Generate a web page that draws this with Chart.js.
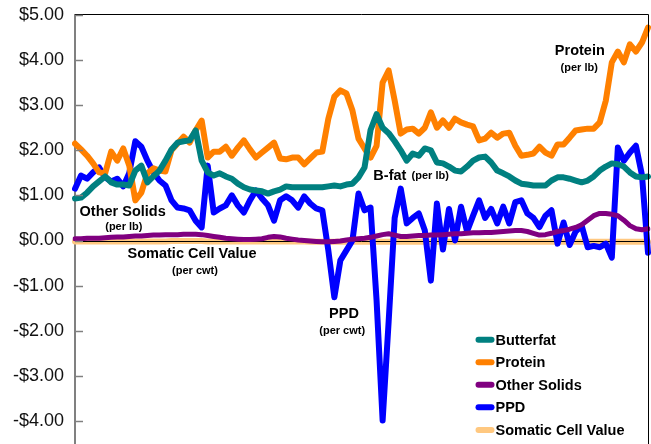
<!DOCTYPE html>
<html>
<head>
<meta charset="utf-8">
<script src="https://cdn.jsdelivr.net/npm/chart.js@4.4.1/dist/chart.umd.min.js"></script>
<style>
html,body{margin:0;padding:0;background:#fff;overflow:hidden;}
canvas{display:block;}
</style>
</head>
<body>
<canvas id="c" width="651" height="480"></canvas>
<script>
// ---- data ----
const periods = Array.from({length: 96}, (_, i) => 'P' + (i + 1));
const yTicks = [-5, -4, -3, -2, -1, 0, 1, 2, 3, 4, 5];

const butterfat = [
 0.93,0.95,1.06,1.20,1.31,1.42,1.29,1.24,1.24,1.22,
 1.55,1.66,1.29,1.42,1.55,1.77,2.02,2.17,2.20,2.22,
 2.44,1.77,1.51,1.44,1.49,1.42,1.37,1.26,1.18,1.13,
 1.11,1.09,1.04,1.09,1.13,1.20,1.18,1.18,1.18,1.18,
 1.18,1.18,1.20,1.22,1.20,1.24,1.26,1.40,1.62,2.45,
 2.80,2.50,2.38,2.20,2.00,1.77,1.93,1.88,2.04,2.00,
 1.73,1.71,1.64,1.55,1.53,1.64,1.77,1.84,1.86,1.73,
 1.55,1.49,1.42,1.33,1.26,1.24,1.22,1.22,1.22,1.33,
 1.40,1.40,1.37,1.33,1.29,1.33,1.42,1.55,1.64,1.71,
 1.69,1.64,1.51,1.42,1.40,1.42];

const protein = [
 2.15,2.02,1.88,1.71,1.51,1.49,1.97,1.77,2.04,1.66,
 0.89,1.06,1.49,1.60,1.55,1.53,2.00,2.15,2.30,2.17,
 2.44,2.66,1.84,1.97,1.97,2.08,1.88,2.06,2.22,2.02,
 1.84,1.95,2.06,2.17,1.82,1.80,1.84,1.84,1.69,1.82,
 1.95,1.97,2.70,3.19,3.33,3.26,2.88,2.26,2.04,1.84,
 2.10,3.50,3.77,3.10,2.37,2.46,2.48,2.37,2.50,2.84,
 2.50,2.66,2.50,2.70,2.62,2.57,2.53,2.22,2.26,2.39,
 2.28,2.37,2.39,2.10,1.88,1.90,1.93,2.08,1.95,1.88,
 2.13,2.13,2.28,2.44,2.46,2.48,2.48,2.62,3.10,3.95,
 4.19,3.95,4.35,4.19,4.39,4.72];

const otherSolids = [
 0.04,0.04,0.05,0.05,0.05,0.06,0.07,0.08,0.08,0.09,
 0.10,0.10,0.11,0.12,0.12,0.13,0.13,0.13,0.14,0.14,
 0.14,0.13,0.11,0.09,0.07,0.05,0.04,0.03,0.02,0.02,
 0.03,0.04,0.07,0.09,0.08,0.05,0.03,0.01,0.00,-0.01,
 -0.02,-0.03,-0.03,-0.02,-0.01,0.01,0.03,0.04,0.05,0.07,
 0.10,0.13,0.15,0.12,0.09,0.09,0.10,0.11,0.11,0.12,
 0.12,0.13,0.14,0.15,0.15,0.16,0.17,0.17,0.18,0.18,
 0.19,0.20,0.21,0.22,0.22,0.20,0.16,0.12,0.13,0.16,
 0.20,0.22,0.25,0.29,0.35,0.45,0.55,0.60,0.60,0.58,
 0.55,0.45,0.33,0.26,0.24,0.26];

const ppd = [
 1.15,1.44,1.37,1.51,1.62,1.40,1.31,1.37,1.20,1.50,
 2.20,2.08,1.77,1.51,1.33,1.22,0.89,0.73,0.71,0.67,
 0.44,0.29,1.66,0.62,0.71,0.78,1.00,0.78,0.62,0.89,
 1.11,0.93,0.78,0.44,0.89,0.98,0.89,0.73,0.98,0.82,
 0.71,0.67,-0.22,-1.26,-0.44,-0.22,0.00,1.04,0.67,0.73,
 -1.33,-3.99,-1.80,0.50,1.15,0.38,0.50,0.60,0.22,-0.89,
 0.82,-0.20,0.70,0.00,0.75,0.20,0.55,0.89,0.50,0.70,
 0.38,0.75,0.38,0.85,0.89,0.60,0.50,0.30,0.55,0.67,
 -0.07,0.40,-0.10,0.20,0.33,-0.15,-0.12,-0.15,-0.07,-0.38,
 2.06,1.77,1.95,2.10,1.45,-0.27];

const somaticCell = [
 -0.02,-0.02,-0.02,-0.02,-0.02,-0.02,-0.02,-0.02,-0.02,-0.02,
 -0.02,-0.02,-0.02,-0.02,-0.02,-0.02,-0.01,-0.01,-0.01,-0.01,
 -0.01,-0.01,-0.02,-0.02,-0.02,-0.02,-0.02,-0.02,-0.02,-0.02,
 -0.02,-0.02,-0.02,-0.02,-0.02,-0.02,-0.02,-0.02,-0.02,-0.03,
 -0.03,-0.03,-0.03,-0.03,-0.03,-0.03,-0.03,-0.03,-0.03,-0.03,
 -0.03,-0.03,-0.03,-0.03,-0.03,-0.03,-0.03,-0.03,-0.03,-0.03,
 -0.03,-0.03,-0.03,-0.03,-0.03,-0.03,-0.03,-0.03,-0.03,-0.03,
 -0.03,-0.03,-0.03,-0.03,-0.03,-0.03,-0.03,-0.03,-0.03,-0.03,
 -0.03,-0.03,-0.03,-0.03,-0.03,-0.03,-0.03,-0.03,-0.03,-0.03,
 -0.03,-0.03,-0.03,-0.03,-0.03,-0.03];

const seriesNames = ['Butterfat', 'Protein', 'Other Solids', 'PPD', 'Somatic Cell Value'];
const seriesColors = ['#008080', '#FF8000', '#800080', '#0000FF', '#FFC880'];

// text labels: [text, xIndex, yValue, fontPx, align]
const notes = [
 ['Protein', 83.7, 4.21, 14.5, 'center'],
 ['(per lb)', 83.6, 3.83, 11, 'center'],
 ['B-fat', 52.2, 1.44, 14.5, 'center'],
 ['(per lb)', 58.9, 1.42, 11, 'center'],
 ['Other Solids', 7.9, 0.64, 14.5, 'center'],
 ['(per lb)', 8.1, 0.29, 11, 'center'],
 ['Somatic Cell Value', 19.4, -0.31, 14.5, 'center'],
 ['(per cwt)', 19.9, -0.67, 11, 'center'],
 ['PPD', 44.6, -1.64, 14.5, 'center'],
 ['(per cwt)', 44.3, -2.0, 11, 'center']
];

const FONT = '"Liberation Sans", Arial, sans-serif';

const datasets = [butterfat, protein, otherSolids, ppd, somaticCell].map((d, i) => ({
  label: seriesNames[i],
  data: d,
  borderColor: seriesColors[i],
  backgroundColor: seriesColors[i],
  borderWidth: i === 2 ? 5 : 6,
  pointRadius: 0,
  tension: 0,
  fill: false,
  borderJoinStyle: 'round',
  borderCapStyle: 'round'
}));

const decor = {
  id: 'decor',
  afterDatasetDraw(chart, args) {
    if (args.index !== 4) return;
    const {ctx, chartArea, scales} = chart;
    const y0 = Math.round(scales.y.getPixelForValue(0)) + 0.5;
    ctx.save();
    ctx.strokeStyle = '#000';
    ctx.lineWidth = 1;
    ctx.beginPath();
    ctx.moveTo(chartArea.left, y0);
    ctx.lineTo(chartArea.right, y0);
    ctx.stroke();
    ctx.restore();
  },
  afterDraw(chart) {
    const {ctx, chartArea, scales} = chart;
    ctx.save();
    // top & right border
    ctx.strokeStyle = '#000';
    ctx.lineWidth = 1;
    ctx.beginPath();
    ctx.moveTo(chartArea.left, chartArea.top - 0.5);
    ctx.lineTo(chartArea.right + 0.5, chartArea.top - 0.5);
    ctx.lineTo(chartArea.right + 0.5, chartArea.bottom + 20);
    ctx.stroke();
    // inner ticks
    ctx.strokeStyle = '#808080';
    ctx.lineWidth = 1.5;
    yTicks.forEach(v => {
      const y = Math.round(scales.y.getPixelForValue(v)) + 0.5;
      ctx.beginPath();
      ctx.moveTo(chartArea.left, y);
      ctx.lineTo(chartArea.left + 8, y);
      ctx.stroke();
    });
    // notes
    ctx.fillStyle = '#000';
    ctx.textBaseline = 'middle';
    notes.forEach(n => {
      ctx.font = 'bold ' + n[3] + 'px ' + FONT;
      ctx.textAlign = n[4];
      ctx.fillText(n[0], scales.x.getPixelForValue(n[1]), scales.y.getPixelForValue(n[2]));
    });
    // legend
    const lx = scales.x.getPixelForValue(66.9);
    let ly = scales.y.getPixelForValue(-2.20);
    const step = (scales.y.getPixelForValue(0) - scales.y.getPixelForValue(1)) * 0.5;
    seriesNames.forEach((name, i) => {
      ctx.strokeStyle = seriesColors[i];
      ctx.lineWidth = 6;
      ctx.lineCap = 'round';
      ctx.beginPath();
      ctx.moveTo(lx, ly);
      ctx.lineTo(lx + 13, ly);
      ctx.stroke();
      ctx.fillStyle = '#000';
      ctx.font = 'bold 14.5px ' + FONT;
      ctx.textAlign = 'left';
      ctx.fillText(name, lx + 17, ly + 1);
      ly += step;
    });
    ctx.restore();
  }
};

new Chart(document.getElementById('c'), {
  type: 'line',
  data: { labels: periods, datasets },
  options: {
    responsive: false,
    animation: false,
    devicePixelRatio: 1,
    layout: { padding: { top: 15, right: 3, bottom: 14, left: 0 } },
    plugins: { legend: { display: false }, tooltip: { enabled: false } },
    scales: {
      x: { display: false, offset: false },
      y: {
        min: -5, max: 5,
        afterFit(s) { s.width = 75; s.paddingTop = 0; s.paddingBottom = 0; },
        afterBuildTicks(s) { s.ticks = yTicks.map(v => ({ value: v })); },
        grid: { display: false, drawTicks: false },
        border: { display: true, color: '#808080', width: 2 },
        ticks: {
          padding: 11,
          color: '#111',
          font: { family: FONT, size: 18 },
          callback: v => (v < 0 ? '-$' : '$') + Math.abs(v).toFixed(2)
        }
      }
    }
  },
  plugins: [decor]
});
</script>
</body>
</html>
